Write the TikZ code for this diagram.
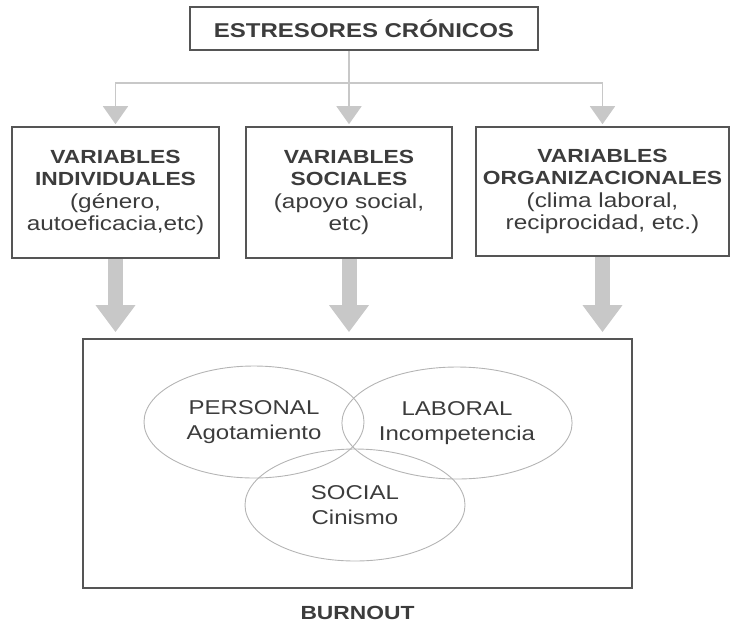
\documentclass[tikz,border=0pt]{standalone}
\usepackage{fontspec}
\setmainfont{Liberation Sans}[FakeStretch=1.2]
\usetikzlibrary{arrows.meta,positioning,calc,shapes.geometric}
\definecolor{testo}{HTML}{3C3C3C}
\definecolor{bordo}{HTML}{555555}
\definecolor{freccia}{HTML}{C8C8C8}
\definecolor{cerchio}{HTML}{B4B4B4}
\newcommand{\tit}[1]{{\bfseries\fontsize{19}{22.5}\selectfont #1}}
\tikzset{main base/.style={draw=bordo,line width=1.6pt,text=testo,align=center}, }
\tikzset{main node/.style={rectangle,main base,font=\fontsize{20.3}{22.5}\selectfont}, }
\tikzset{main node2/.style={main node,
    minimum height=131pt,inner sep=0pt}, }
\tikzset{main verb/.style={ellipse,draw=cerchio,line width=0.9pt,text=testo,
    minimum width=220pt,minimum height=112pt,align=center,
    font=\fontsize{20}{25}\selectfont}, }
\tikzset{linea/.style={-{Triangle[width=25pt,length=18pt]},draw=freccia,line width=1.6pt}}
\tikzset{linea2/.style={-{Triangle[width=38pt,length=27pt]},draw=freccia,line width=15pt}}

\begin{document}
\begin{tikzpicture}[x=1pt,y=-1pt]
  \useasboundingbox (0,0) rectangle (731,625);
    \node[main node,minimum width=348pt,minimum height=43pt,
      font=\bfseries\fontsize{20}{23}\selectfont] (1) at (364,28.5) {ESTRESORES CRÓNICOS};

    \node[main node2,minimum width=207pt] (2) at (115.5,192.5)
      {\tit{VARIABLES}\\\tit{INDIVIDUALES}\\(género,\\autoeficacia,etc)};
    \node[main node2,minimum width=206pt] (3) at (349,192.5)
      {\tit{VARIABLES}\\\tit{SOCIALES}\\(apoyo social,\\etc)};
    \node[main node2,minimum width=253pt,minimum height=129pt] (4) at (602.5,191.5)
      {\tit{VARIABLES}\\\tit{ORGANIZACIONALES}\\(clima laboral,\\reciprocidad, etc.)};

    \node[main node,minimum width=549pt,minimum height=249pt] (5) at (357.5,463.5) {};
    \node[font=\bfseries\fontsize{19}{23}\selectfont,text=testo] (6) [below=14pt of 5] {BURNOUT};

    \node[main verb] (7) at (254,422) {PERSONAL\\Agotamiento};
    \node[main verb] (8) at (457,423) {LABORAL\\Incompetencia};
    \node[main verb] (9) at (355,505) {SOCIAL\\Cinismo};

    \coordinate (ramo) at ($(1.south -| 3.north)+(0,32)$);
    \draw[linea,shorten >=2pt] (1.south -| 3.north) -- (3.north);
    \draw[linea,shorten >=2pt] (ramo) -| (2.north);
    \draw[linea,shorten >=2pt] (ramo) -| (4.north);
\foreach \x /\y in {2/5,3/5,4/5}
  \draw[linea2,shorten >=6pt] (\x.south) -- (\x.south |- \y.north);
%
\end{tikzpicture}
\end{document}
